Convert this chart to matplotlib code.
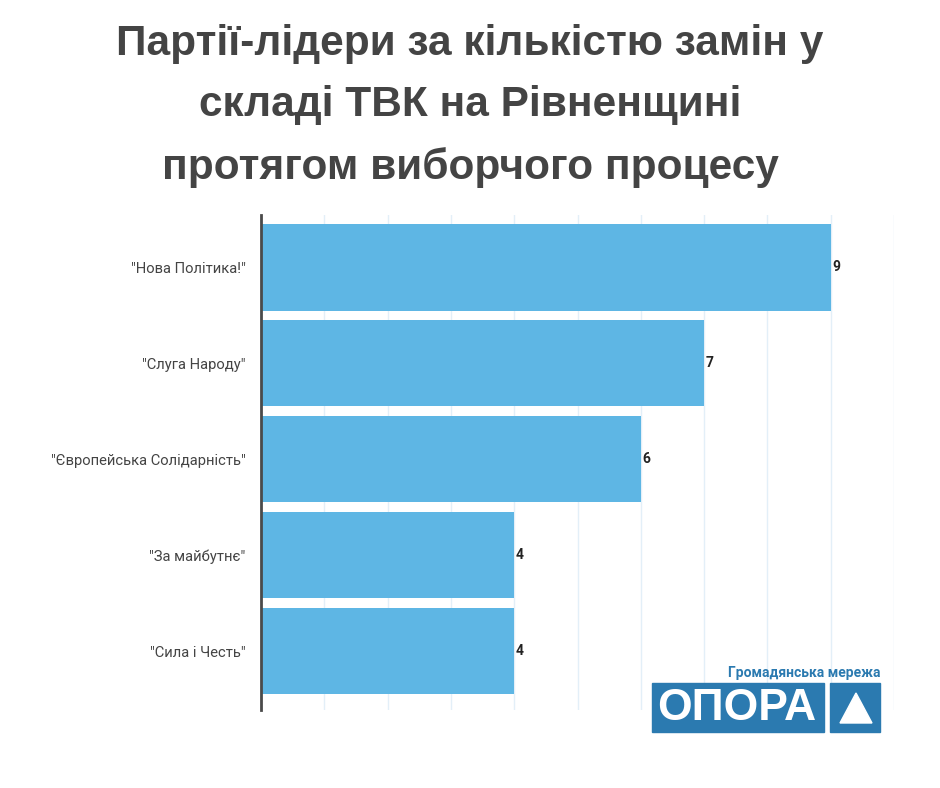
import matplotlib
matplotlib.use("Agg")
import matplotlib.pyplot as plt
from matplotlib.patches import Rectangle, Polygon

# ---------------------------------------
# data
parties = ['"Нова Політика!"', '"Слуга Народу"', '"Європейська Солідарність"',
           '"За майбутнє"', '"Сила і Честь"']
replacements = [9, 7, 6, 4, 4]

title = "Партії-лідери за кількістю замін у\nскладі ТВК на Рівненщині\nпротягом виборчого процесу"

bar_color = "#5eb6e4"
grid_color = "#e3eff8"
text_color = "#444444"
logo_color = "#2b7ab0"

# ---------------------------------------

def main():
    fig = plt.figure(figsize=(9.4, 7.88), dpi=100)
    ax = fig.add_axes([261 / 940, 1 - 710 / 788, (894 - 261) / 940, (710 - 215) / 788])

    ypos = list(range(len(parties)))
    ax.barh(ypos, replacements, height=0.9, color=bar_color, zorder=2)
    for y, v in zip(ypos, replacements):
        ax.text(v + 0.03, y, str(v), va="center", ha="left", fontsize=10,
                color="#222222", family="Roboto", fontweight="bold")

    ax.set_xlim(0, 10)
    ax.set_ylim(4.615, -0.547)
    ax.set_xticks(range(0, 11))
    ax.set_xticklabels([])
    ax.tick_params(axis="x", length=0)
    ax.grid(axis="x", color=grid_color, linewidth=1, zorder=0)
    ax.set_yticks(ypos)
    ax.set_yticklabels(parties, fontsize=10.6, color=text_color, family="Roboto")
    ax.tick_params(axis="y", length=0, pad=11)
    for side in ["top", "right", "bottom"]:
        ax.spines[side].set_visible(False)
    ax.spines["left"].set_color("#4a4a4a")
    ax.spines["left"].set_linewidth(2)
    ax.spines["left"].set_zorder(3)

    fig.text(0.5, 1 - 106 / 788, title, ha="center", va="center", fontsize=30.5,
             fontweight="bold", color=text_color, family="Liberation Sans",
             linespacing=1.68)

    # OPORA logo
    fig.patches.append(Rectangle((652 / 940, 1 - 732 / 788), 172 / 940, 49 / 788,
                                 transform=fig.transFigure, color=logo_color, zorder=5))
    fig.patches.append(Rectangle((830 / 940, 1 - 732 / 788), 50 / 940, 49 / 788,
                                 transform=fig.transFigure, color=logo_color, zorder=5))
    fig.patches.append(Polygon([(840 / 940, 1 - 723 / 788), (872 / 940, 1 - 723 / 788),
                                (856 / 940, 1 - 693 / 788)],
                               transform=fig.transFigure, color="white", zorder=6))
    fig.text(737 / 940, 1 - 708 / 788, "ОПОРА", ha="center", va="center", fontsize=32,
             fontweight="bold", color="white", family="Liberation Sans", zorder=7)
    fig.text(880 / 940, 1 - 673 / 788, "Громадянська мережа", ha="right", va="center",
             fontsize=10, fontweight="bold", color=logo_color, family="Roboto", zorder=7)

    fig.savefig("out.png", dpi=100, facecolor="white")

# ---------------------------------------

if __name__ == "__main__":
    main()
